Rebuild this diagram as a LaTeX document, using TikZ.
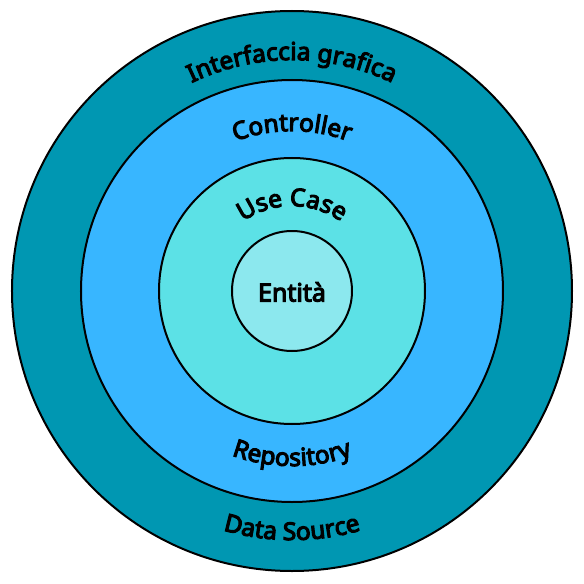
\documentclass[tikz,border=0pt]{standalone}
\usepackage{fontspec}
\setmainfont{Noto Sans}[AutoFakeBold=4.5]
\usetikzlibrary{decorations.text}
\definecolor{cOuter}{HTML}{0097B2}
\definecolor{cSecond}{HTML}{38B6FF}
\definecolor{cThird}{HTML}{5CE1E6}
\definecolor{cInner}{HTML}{8CE8EE}
\tikzset{
  ring/.style={draw=black, line width=2pt},
  arctext/.style={decorate, decoration={text along path, text align=center, text={|\bfseries\fontsize{24.5}{28}\selectfont|#1}}}
}
\begin{document}
\begin{tikzpicture}[x=1pt,y=1pt]
\useasboundingbox (-292,-293) rectangle (292,291);
\fill[white] (-292,-293) rectangle (292,291);
\node[ring, circle, fill=cOuter, minimum size=560pt, inner sep=0pt] (outer) at (0,0) {};
\node[ring, circle, fill=cSecond, minimum size=422pt, inner sep=0pt] (second) at (0,0) {};
\node[ring, circle, fill=cThird, minimum size=266pt, inner sep=0pt] (third) at (0,0) {};
\node[ring, circle, fill=cInner, minimum size=120pt, inner sep=0pt] (inner) at (0,0) {};
\node[font=\bfseries\fontsize{25}{28}\selectfont] (entita) at (0,-1) {Entità};
\path[arctext={Interfaccia grafica}] (150:231) arc[start angle=150, end angle=30, radius=231];
\path[arctext={Controller}] (150:160) arc[start angle=150, end angle=30, radius=160];
\path[arctext={Use Case}] (150:85) arc[start angle=150, end angle=30, radius=85];
\path[arctext={Repository}] (210:175) arc[start angle=210, end angle=330, radius=175];
\path[arctext={Data Source}] (210:249) arc[start angle=210, end angle=330, radius=249];
\end{tikzpicture}
\end{document}
